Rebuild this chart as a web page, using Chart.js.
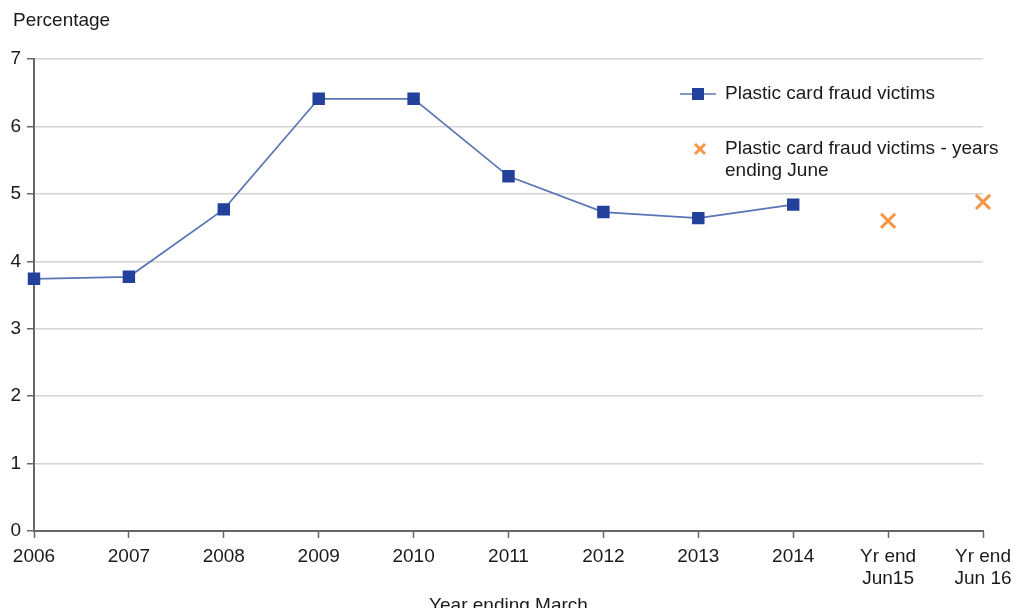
<!DOCTYPE html>
<html><head><meta charset="utf-8">
<script src="https://cdn.jsdelivr.net/npm/chart.js@4"></script>
<style>html,body{margin:0;padding:0;background:#fff}#wrap{width:1014px;height:608px}</style>
</head><body><div id="wrap"><canvas id="c" width="1014" height="608"></canvas></div>
<script>
const categories = ['2006','2007','2008','2009','2010','2011','2012','2013','2014',['Yr end','Jun15'],['Yr end','Jun 16']];
const marchValues = [3.74,3.77,4.77,6.41,6.41,5.26,4.73,4.64,4.84,null,null];
const juneValues = [null,null,null,null,null,null,null,null,null,4.60,4.88];
const yTicks = [0,1,2,3,4,5,6,7];
const seriesNames = ['Plastic card fraud victims','Plastic card fraud victims - years ending June'];

const FONT = "'Liberation Sans', Arial, sans-serif";
const BLUE = '#23409A', LINE = '#5A74B6', ORANGE = '#F79646', TXT = '#1a1a1a';
const FS = 19;

const legendPlugin = {
  id: 'customLegend',
  afterDraw(chart) {
    const ctx = chart.ctx;
    ctx.save();
    ctx.strokeStyle = LINE; ctx.lineWidth = 1.5;
    ctx.beginPath(); ctx.moveTo(680, 94); ctx.lineTo(716, 94); ctx.stroke();
    ctx.fillStyle = BLUE; ctx.fillRect(692, 88, 12, 12);
    ctx.fillStyle = TXT; ctx.font = FS + 'px ' + FONT; ctx.textBaseline = 'middle';
    ctx.fillText(seriesNames[0], 725, 94);
    ctx.strokeStyle = ORANGE; ctx.lineWidth = 3;
    ctx.beginPath(); ctx.moveTo(695, 144); ctx.lineTo(705, 154); ctx.moveTo(705, 144); ctx.lineTo(695, 154); ctx.stroke();
    ctx.fillStyle = TXT;
    ctx.fillText('Plastic card fraud victims - years', 725, 149);
    ctx.fillText('ending June', 725, 171);
    ctx.fillText('Percentage', 13, 21);
    ctx.restore();
  }
};

new Chart(document.getElementById('c'), {
  type: 'line',
  data: {
    labels: categories,
    datasets: [
      { label: seriesNames[0], data: marchValues, borderColor: LINE, borderWidth: 1.7,
        pointStyle: 'rect', pointRadius: 8.8, pointBackgroundColor: BLUE, pointBorderColor: BLUE,
        pointBorderWidth: 0, tension: 0, spanGaps: false },
      { label: seriesNames[1], data: juneValues, showLine: false,
        pointStyle: 'crossRot', pointRadius: 10, pointBorderColor: ORANGE, pointBorderWidth: 3,
        borderColor: ORANGE }
    ]
  },
  options: {
    responsive: false, animation: false,
    layout: { padding: { top: 59, right: 31, left: 0, bottom: 0 } },
    plugins: { legend: { display: false }, tooltip: { enabled: false } },
    scales: {
      x: {
        offset: false,
        grid: { display: true, drawOnChartArea: false, drawTicks: true, tickLength: 7, tickColor: '#666', tickWidth: 1.5 },
        border: { color: '#666', width: 2 },
        ticks: { color: TXT, font: { family: FONT, size: FS, lineHeight: 1.2 }, padding: 7, maxRotation: 0, autoSkip: false },
        title: { display: true, text: 'Year ending March', color: TXT, font: { family: FONT, size: FS }, padding: { top: 0, bottom: -9 } },
        afterFit(s) { s.height = 77; s.paddingRight = 0; s.paddingLeft = 0; }
      },
      y: {
        min: 0, max: 7,
        afterBuildTicks(s) { s.ticks = yTicks.map(v => ({ value: v })); },
        grid: { color: '#d4d4d4', lineWidth: 1.5, tickLength: 7, tickColor: '#666', tickWidth: 1.5 },
        border: { color: '#666', width: 2 },
        ticks: { color: TXT, font: { family: FONT, size: FS }, padding: 6 },
        afterFit(s) { s.width = 34; }
      }
    }
  },
  plugins: [legendPlugin]
});
</script>
</body></html>
